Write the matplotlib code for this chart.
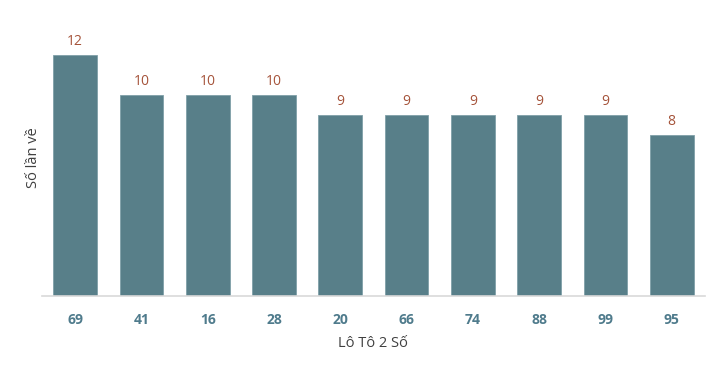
import matplotlib
matplotlib.use("Agg")
from matplotlib import pyplot as plt
import numpy as np

numbers = ['69', '41', '16', '28', '20', '66', '74', '88', '99', '95']
counts = [12, 10, 10, 10, 9, 9, 9, 9, 9, 8]

bar_color = '#587f89'
label_color = '#a5533a'
tick_color = '#4f7b8c'

plt.rcParams['font.family'] = ['Open Sans', 'DejaVu Sans']

fig = plt.figure(figsize=(7.17, 3.70), dpi=100)
ax = fig.add_axes([0.0586, 0.2, 0.9244, 0.746])

x = np.arange(len(numbers))
bars = ax.bar(x, counts, width=0.66, color=bar_color, edgecolor='#7fa0a8', linewidth=0.6)

for xi, c in zip(x, counts):
    ax.text(xi, c + 0.3, str(c), ha='center', va='bottom', fontsize=10, color=label_color)

ax.set_xlim(-0.5, len(numbers) - 0.5)
ax.set_ylim(0, 13.75)
ax.set_xticks(x)
ax.set_xticklabels(numbers, fontsize=10, fontweight='bold', color=tick_color)
ax.tick_params(axis='x', length=0, pad=12)
ax.set_yticks([])

for side in ['top', 'right', 'left']:
    ax.spines[side].set_visible(False)
ax.spines['bottom'].set_color('#d9d9d9')
ax.spines['bottom'].set_linewidth(1.2)

ax.set_xlabel('Lô Tô 2 Số', fontsize=10.5, color='#404040', labelpad=7)
ax.set_ylabel('Số lần về', fontsize=10.5, color='#404040', labelpad=1)

plt.savefig('out.png', dpi=100)
